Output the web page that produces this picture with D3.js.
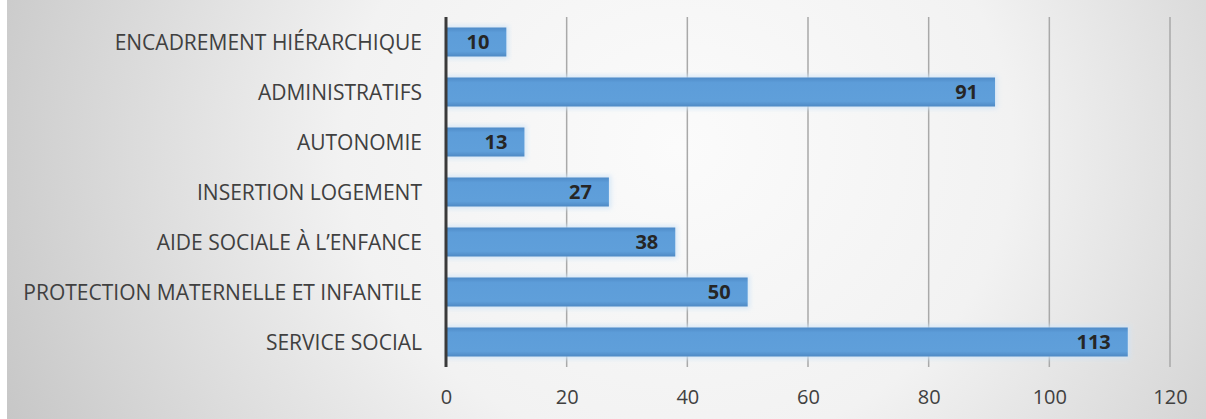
<!DOCTYPE html>
<html>
<head>
<meta charset="utf-8">
<script src="https://cdn.jsdelivr.net/npm/d3@7"></script>
<style>
  html, body { margin: 0; padding: 0; background: #fff; }
  svg { display: block; }
  .cat-label { font-family: "Open Sans", sans-serif; font-size: 21px; fill: #404040; }
  .x-axis text { font-family: "Open Sans", sans-serif; font-size: 20px; fill: #404040; }
  .value-label { font-family: "Open Sans", sans-serif; font-size: 20px; font-weight: bold; fill: #262626; }
</style>
</head>
<body>
<script>
// data, top to bottom as drawn
const categories = [
    'ENCADREMENT HIÉRARCHIQUE',
    'ADMINISTRATIFS',
    'AUTONOMIE',
    'INSERTION LOGEMENT',
    'AIDE SOCIALE À L’ENFANCE',
    'PROTECTION MATERNELLE ET INFANTILE',
    'SERVICE SOCIAL'
];
const values = [10, 91, 13, 27, 38, 50, 113];
const xTicks = [0, 20, 40, 60, 80, 100, 120];

const width = 1206;
const height = 419;
const margin = {top: 17, right: 36, bottom: 52, left: 446};

const svg = d3.select('body').append('svg')
    .attr('width', width)
    .attr('height', height);

const defs = svg.append('defs');

// background: light in the middle, gray towards the edges
const bg = defs.append('radialGradient')
    .attr('id', 'bg')
    .attr('cx', '0.56').attr('cy', '0.35').attr('r', '0.62')
    .attr('gradientTransform', 'translate(0.56,0.35) scale(1,2.6) translate(-0.56,-0.35)');
bg.append('stop').attr('offset', '0%').attr('stop-color', '#fbfbfb');
bg.append('stop').attr('offset', '45%').attr('stop-color', '#f2f2f2');
bg.append('stop').attr('offset', '100%').attr('stop-color', '#c6c6c6');

const barGrad = defs.append('linearGradient')
    .attr('id', 'bar')
    .attr('x1', 0).attr('y1', 0).attr('x2', 0).attr('y2', 1);
barGrad.append('stop').attr('offset', '0%').attr('stop-color', '#4f8bc8');
barGrad.append('stop').attr('offset', '18%').attr('stop-color', '#5d9dd9');
barGrad.append('stop').attr('offset', '82%').attr('stop-color', '#5f9fda');
barGrad.append('stop').attr('offset', '100%').attr('stop-color', '#4e89c4');

const glow = defs.append('filter')
    .attr('id', 'glow')
    .attr('x', '-5%').attr('y', '-40%').attr('width', '110%').attr('height', '180%');
glow.append('feGaussianBlur').attr('stdDeviation', 2.5);

svg.append('rect')
    .attr('x', 7).attr('y', 0)
    .attr('width', width - 7).attr('height', height)
    .attr('fill', 'url(#bg)');

const x = d3.scaleLinear()
    .domain([0, 120])
    .range([margin.left, width - margin.right]);

const y = d3.scaleBand()
    .domain(categories)
    .range([margin.top, height - margin.bottom])
    .paddingInner(0.42)
    .paddingOuter(0.21);

const plotBottom = height - margin.bottom;

// gridlines
svg.append('g')
    .classed('grid', true)
    .selectAll('line')
    .data(xTicks.filter(d => d > 0))
    .join('line')
    .attr('x1', d => x(d)).attr('x2', d => x(d))
    .attr('y1', margin.top).attr('y2', plotBottom)
    .attr('stroke', '#a9a9a9')
    .attr('stroke-width', 1.5);

// soft halo around bars
svg.append('g')
    .selectAll('rect')
    .data(values)
    .join('rect')
    .attr('x', x(0))
    .attr('y', (d, i) => y(categories[i]) - 2)
    .attr('width', d => x(d) - x(0) + 2)
    .attr('height', y.bandwidth() + 4)
    .attr('fill', '#cfe4f7')
    .attr('opacity', 0.9)
    .attr('filter', 'url(#glow)');

// bars
svg.append('g')
    .classed('bars', true)
    .selectAll('rect')
    .data(values)
    .join('rect')
    .attr('x', x(0))
    .attr('y', (d, i) => y(categories[i]))
    .attr('width', d => x(d) - x(0))
    .attr('height', y.bandwidth())
    .attr('fill', 'url(#bar)');

// value labels inside end of bars
svg.append('g')
    .selectAll('text')
    .data(values)
    .join('text')
    .classed('value-label', true)
    .attr('x', d => x(d) - 17)
    .attr('y', (d, i) => y(categories[i]) + y.bandwidth() / 2)
    .attr('dy', '0.36em')
    .attr('text-anchor', 'end')
    .text(d => d);

// category axis line
svg.append('line')
    .attr('x1', x(0)).attr('x2', x(0))
    .attr('y1', margin.top).attr('y2', plotBottom)
    .attr('stroke', '#3a3a3a')
    .attr('stroke-width', 3);

// category labels
svg.append('g')
    .selectAll('text')
    .data(categories)
    .join('text')
    .classed('cat-label', true)
    .attr('x', x(0) - 24)
    .attr('y', d => y(d) + y.bandwidth() / 2)
    .attr('dy', '0.36em')
    .attr('text-anchor', 'end')
    .text(d => d);

// value axis
const xAxis = svg.append('g')
    .classed('x-axis', true)
    .attr('transform', 'translate(0,' + plotBottom + ')')
    .call(d3.axisBottom(x).tickValues(xTicks).tickSize(0).tickPadding(23));
xAxis.select('.domain').remove();
</script>
</body>
</html>
